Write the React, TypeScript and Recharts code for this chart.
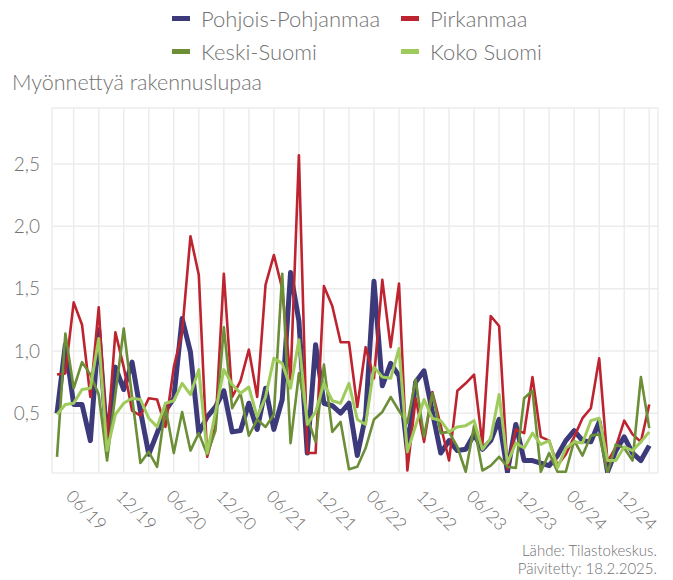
import React from "react";
import { LineChart, Line, XAxis, YAxis, CartesianGrid } from "recharts";

// months Jan 2019 .. Dec 2024
const years = ["19", "20", "21", "22", "23", "24"];
const monthNums = ["01", "02", "03", "04", "05", "06", "07", "08", "09", "10", "11", "12"];
const months = years.flatMap((y) => monthNums.map((m) => `${m}/${y}`));

const pohjoisPohjanmaa = [
  0.5, 1.05, 0.57, 0.57, 0.28, 1.17, 0.27, 0.87, 0.69, 0.91, 0.52, 0.17,
  0.34, 0.52, 0.62, 1.26, 0.99, 0.34, 0.47, 0.55, 0.68, 0.35, 0.36, 0.58,
  0.37, 0.7, 0.37, 0.61, 1.63, 1.24, 0.18, 1.05, 0.58, 0.56, 0.5, 0.58,
  0.16, 0.48, 1.56, 0.72, 0.9, 0.8, 0.2, 0.75, 0.84, 0.51, 0.18, 0.28,
  0.2, 0.21, 0.33, 0.21, 0.28, 0.45, 0.03, 0.41, 0.12, 0.12, 0.1, 0.08,
  0.16, 0.28, 0.36, 0.28, 0.27, 0.43, 0.03, 0.2, 0.31, 0.18, 0.12, 0.24,
];
const pirkanmaa = [
  0.81, 0.82, 1.39, 1.21, 0.63, 1.35, 0.27, 1.15, 0.87, 0.52, 0.48, 0.62,
  0.61, 0.39, 0.87, 1.15, 1.92, 1.61, 0.15, 0.4, 1.62, 0.63, 0.76, 1.01,
  0.63, 1.53, 1.77, 1.5, 0.77, 2.57, 0.18, 0.18, 1.52, 1.36, 1.07, 1.07,
  0.55, 1.03, 0.78, 1.57, 1.03, 1.54, 0.04, 0.62, 0.27, 0.67, 0.4, 0.12,
  0.68, 0.74, 0.81, 0.25, 1.28, 1.2, 0.05, 0.37, 0.34, 0.79, 0.31, 0.28,
  0.08, 0.17, 0.31, 0.46, 0.54, 0.94, 0.11, 0.23, 0.44, 0.33, 0.27, 0.57,
];
const keskiSuomi = [
  0.15, 1.14, 0.7, 0.91, 0.81, 0.65, 0.12, 0.65, 1.18, 0.63, 0.1, 0.19,
  0.07, 0.55, 0.18, 0.51, 0.2, 0.34, 0.17, 0.36, 1.19, 0.54, 0.66, 0.32,
  0.45, 0.39, 0.49, 1.62, 0.26, 0.82, 0.47, 0.27, 0.89, 0.35, 0.43, 0.05,
  0.07, 0.22, 0.45, 0.51, 0.63, 0.52, 0.42, 0.77, 0.31, 0.66, 0.34, 0.35,
  0.23, 0.03, 0.4, 0.04, 0.08, 0.15, 0.07, 0.06, 0.62, 0.68, 0.03, 0.18,
  0.03, 0.03, 0.28, 0.16, 0.32, 0.33, 0.02, 0.25, 0.22, 0.12, 0.79, 0.38,
];
const kokoSuomi = [
  0.49, 0.57, 0.58, 0.69, 0.7, 1.1, 0.2, 0.49, 0.58, 0.62, 0.61, 0.46,
  0.39, 0.58, 0.6, 0.74, 0.65, 0.85, 0.18, 0.51, 0.85, 0.73, 0.66, 0.71,
  0.47, 0.63, 0.94, 0.9, 0.7, 1.09, 0.41, 0.51, 0.74, 0.6, 0.58, 0.74,
  0.45, 0.41, 0.87, 0.79, 0.78, 1.02, 0.19, 0.4, 0.61, 0.46, 0.44, 0.35,
  0.39, 0.4, 0.44, 0.21, 0.3, 0.65, 0.1, 0.26, 0.22, 0.34, 0.25, 0.28,
  0.06, 0.22, 0.27, 0.26, 0.44, 0.46, 0.12, 0.12, 0.23, 0.2, 0.27, 0.35,
];

const yTicks = [0.5, 1, 1.5, 2, 2.5];
const gridMonths = ["03", "06", "09", "12"];
const labelMonths = ["06", "12"];
const captionLines = ["Lähde: Tilastokeskus.", "Päivitetty: 18.2.2025."];

const series = [
  { key: "pp", name: "Pohjois-Pohjanmaa", color: "#3d3a7c", width: 5 },
  { key: "pi", name: "Pirkanmaa", color: "#bd2430", width: 2.6 },
  { key: "ks", name: "Keski-Suomi", color: "#6b8e37", width: 2.6 },
  { key: "kk", name: "Koko Suomi", color: "#9ecb5c", width: 3 },
];

const data = months.map((m, i) => ({
  t: i,
  month: m,
  pp: pohjoisPohjanmaa[i],
  pi: pirkanmaa[i],
  ks: keskiSuomi[i],
  kk: kokoSuomi[i],
}));

const xTicks = data.filter((d) => gridMonths.includes(d.month.slice(0, 2))).map((d) => d.t);

const FONT = "Lato, 'Open Sans', sans-serif";
const GREY = "#727272";

const XTick = (props: any) => {
  const { x, y, payload } = props;
  const label = months[payload.value];
  if (!label || !labelMonths.includes(label.slice(0, 2))) return <g />;
  const cx = x - 12;
  const cy = y + 35;
  return (
    <text
      x={cx}
      y={cy}
      textAnchor="middle"
      dominantBaseline="central"
      transform={`rotate(45, ${cx}, ${cy})`}
      fontSize={17.5}
      fontWeight={300}
      fill={GREY}
      fontFamily={FONT}
    >
      {label}
    </text>
  );
};

const legendPos = [
  { left: 172, top: 18 },
  { left: 401, top: 18 },
  { left: 172, top: 51 },
  { left: 401, top: 51 },
];

export default function App() {
  return (
    <div style={{ position: "absolute", left: 0, top: 0, width: 673, height: 580, background: "#fff", fontFamily: FONT, fontWeight: 300 }}>
      {series.map((s, i) => (
        <div key={s.key} style={{ position: "absolute", left: legendPos[i].left, top: legendPos[i].top - 13, height: 26, display: "flex", alignItems: "center" }}>
          <div style={{ width: 18, height: 5, background: s.color, marginRight: 11 }} />
          <span style={{ fontSize: 22, color: GREY, whiteSpace: "nowrap" }}>{s.name}</span>
        </div>
      ))}
      <div style={{ position: "absolute", left: 12, top: 69, fontSize: 21.5, color: GREY, whiteSpace: "nowrap" }}>
        Myönnettyä rakennuslupaa
      </div>
      <LineChart width={673} height={580} data={data} margin={{ top: 108, right: 15, bottom: 47, left: 0 }}>
        <CartesianGrid stroke="#ececec" strokeWidth={1.5} />
        <XAxis
          dataKey="t"
          type="number"
          domain={[-0.6, 72.05]}
          allowDataOverflow
          ticks={xTicks}
          interval={0}
          tick={<XTick />}
          tickLine={false}
          axisLine={false}
          tickSize={0}
          height={60}
        />
        <YAxis
          type="number"
          domain={[0.02, 2.95]}
          allowDataOverflow
          ticks={yTicks}
          tickFormatter={(v: number) => v.toFixed(1).replace(".", ",")}
          tickLine={false}
          axisLine={false}
          tickSize={0}
          tickMargin={12}
          width={52}
          tick={{ fontSize: 19, fill: GREY, fontFamily: FONT, fontWeight: 300 }}
        />
        {series.map((s) => (
          <Line
            key={s.key}
            dataKey={s.key}
            name={s.name}
            type="linear"
            stroke={s.color}
            strokeWidth={s.width}
            dot={false}
            activeDot={false}
            isAnimationActive={false}
            strokeLinejoin="round"
          />
        ))}
      </LineChart>
      {captionLines.map((line, i) => (
        <div
          key={line}
          style={{ position: "absolute", right: 16, top: 541 + i * 18, height: 18, lineHeight: "18px", textAlign: "right", fontSize: 15, color: GREY, whiteSpace: "nowrap" }}
        >
          {line}
        </div>
      ))}
    </div>
  );
}
